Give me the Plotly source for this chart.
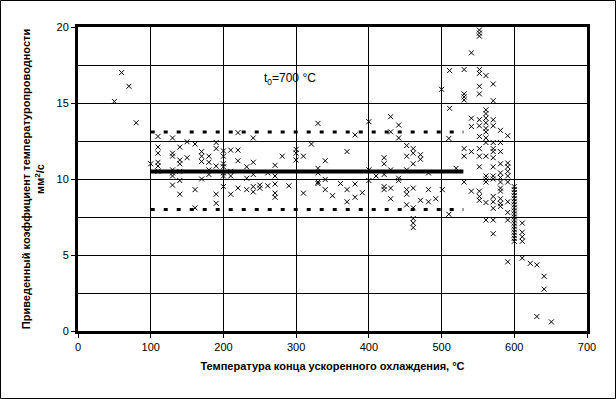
import plotly.graph_objects as go

# ---- data ----
pts = {
    50: [15.1], 60: [17.0], 70: [16.1], 80: [13.7], 100: [11.0],
    110: [12.8, 12.1, 11.7, 11.1, 10.85, 10.5],
    130: [12.7, 11.7, 11.5, 10.6, 10.4, 10.2, 9.6],
    140: [12.1, 11.25, 11.0, 10.5, 9.9, 9.0],
    150: [12.45, 11.4],
    161: [12.3, 9.3, 8.1],
    170: [11.8, 11.5, 11.15, 10.0],
    180: [11.5, 11.1, 10.6, 10.3],
    190: [12.4, 12.0, 10.85, 9.0, 8.4],
    200: [11.85, 11.5, 11.0, 10.8, 10.4, 10.2, 9.5],
    210: [11.9, 10.5, 10.2, 9.0],
    220: [13.05, 11.9, 11.2, 9.4],
    232: [10.8, 10.05, 9.3],
    241: [12.7, 11.1, 10.3, 9.5, 9.15],
    250: [9.6, 9.4],
    261: [10.4, 9.55],
    271: [10.9, 10.2, 9.67, 9.07, 8.8],
    281: [11.5],
    290: [9.55],
    300: [11.95, 11.7, 11.25],
    310: [11.5, 9.07],
    321: [12.3],
    330: [13.66, 10.7, 10.4, 9.8, 9.7],
    340: [11.2, 9.97, 9.3],
    350: [8.9],
    361: [9.7],
    370: [11.8, 9.3, 8.5],
    381: [12.9, 9.67, 8.8],
    391: [9.1],
    400: [13.77, 10.6, 9.9],
    410: [10.2],
    421: [11.4, 11.0, 10.3, 9.5, 9.3],
    430: [14.1, 13.1, 10.6, 9.4, 8.7],
    441: [13.55, 12.7, 10.05, 9.9],
    452: [12.2, 11.5, 10.6, 9.3, 9.0, 8.3],
    461: [12.0, 11.7, 11.0, 9.4, 8.1, 7.4, 7.1, 6.8],
    471: [11.6, 11.3, 8.6],
    482: [10.4, 9.3, 8.5],
    492: [8.7],
    500: [15.9],
    501: [9.3],
    510: [12.67, 7.68],
    511: [17.13, 14.65],
    520: [10.7],
    531: [17.2, 15.6, 15.4, 15.2, 12.0, 11.5, 9.8],
    541: [18.3, 14.0, 13.45, 11.8, 9.2],
    552: [19.8, 19.6, 19.4, 17.2, 16.95, 16.1, 15.6, 13.9, 13.5, 12.8, 12.0,
          11.5, 10.8, 9.2, 8.85, 8.6],
    561: [16.8, 14.55, 14.3, 14.0, 13.7, 13.33, 13.1, 12.7, 12.4, 11.5, 10.2,
          10.0, 9.8, 8.45, 7.3],
    571: [16.25, 15.15, 13.9, 13.5, 12.4, 12.0, 11.8, 11.4, 10.8, 10.2, 10.0,
          8.85, 8.5, 8.07, 7.3, 6.4],
    581: [13.2, 12.4, 11.8, 11.0, 10.4, 10.1, 9.8, 9.4, 9.2, 8.7, 8.4, 8.2],
    591: [12.85, 11.05, 10.8, 10.5, 10.2, 9.8, 8.5, 7.8, 7.3, 4.55],
    600: [9.5, 9.3, 9.1, 8.9, 8.7, 8.5, 8.3, 8.1, 7.9, 7.7, 7.5, 7.3, 7.1,
          6.9, 6.7, 6.5, 6.3, 6.1, 5.9],
    611: [7.1, 6.5, 6.2, 5.9, 4.8],
    622: [4.45],
    631: [4.35, 0.95],
    641: [3.6, 2.75],
    651: [0.6],
}
temp_x = [x for x, ys in pts.items() for _ in ys]
coef_y = [y for ys in pts.values() for y in ys]

mean_x = [100, 530]
mean_y = [10.5, 10.5]
upper_y = [13.1, 13.1]
lower_y = [8.0, 8.0]

x_ticks = [0, 100, 200, 300, 400, 500, 600, 700]
y_ticks = [0, 5, 10, 15, 20]

FONT = "Liberation Sans, Arial, sans-serif"

fig = go.Figure()
fig.add_trace(go.Scatter(x=temp_x, y=coef_y, mode="markers",
                         marker=dict(symbol="x-thin-open", size=5, color="black",
                                     line=dict(width=1, color="black")),
                         showlegend=False))
fig.add_trace(go.Scatter(x=mean_x, y=mean_y, mode="lines",
                         line=dict(color="black", width=4), showlegend=False))
for yy in (upper_y, lower_y):
    fig.add_trace(go.Scatter(x=mean_x, y=yy, mode="lines",
                             line=dict(color="black", width=3, dash="4px,9px"),
                             showlegend=False))

fig.add_annotation(x=292, y=16.6, text="t<sub>0</sub>=700 °C", showarrow=False,
                   font=dict(family=FONT, size=12, color="black"))

L, R, T, B = 78, 29, 27, 68
W, H = 616, 399
pw, ph = W - L - R, H - T - B
fig.add_shape(type="rect", xref="paper", yref="paper",
              x0=(0.5 - L) / pw, x1=(W - 0.5 - L) / pw,
              y0=-(B - 0.5) / ph, y1=1 + (T - 0.5) / ph,
              line=dict(color="black", width=1), layer="below")

fig.update_layout(
    width=W, height=H,
    margin=dict(l=L, r=R, t=T, b=B),
    paper_bgcolor="white", plot_bgcolor="white",
    font=dict(family=FONT, size=11, color="black"),
    xaxis=dict(range=[0, 700], tickvals=x_ticks, showgrid=True, gridcolor="black",
               gridwidth=1, showline=True, linecolor="black", linewidth=3,
               mirror=True, ticks="outside", ticklen=4, tickcolor="black",
               zeroline=False,
               title=dict(text="<b>Температура конца ускоренного охлаждения, °С</b>",
                          font=dict(size=11), standoff=11)),
    yaxis=dict(range=[0, 20], tickvals=y_ticks, showgrid=True, gridcolor="black",
               gridwidth=1, showline=True, linecolor="black", linewidth=3,
               mirror=True, ticks="outside", ticklen=4, tickcolor="black",
               zeroline=False,
               minor=dict(dtick=2.5, showgrid=True, gridcolor="black", gridwidth=1),
               title=dict(text="<b>Приведенный коэффициент температуропроводности<br>мм<sup>2</sup>/с</b>",
                          font=dict(size=11), standoff=10)),
)

fig.write_html("out.html")
